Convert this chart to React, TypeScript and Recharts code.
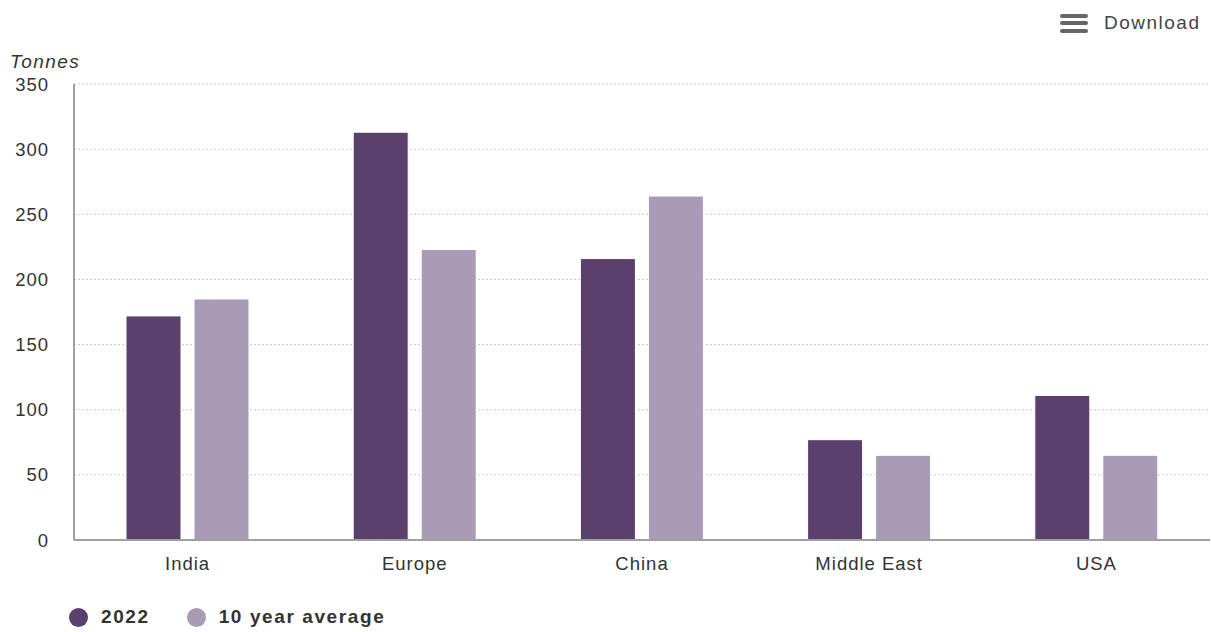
import React from "react";
import { BarChart, Bar, XAxis, YAxis, CartesianGrid } from "recharts";

const categories = ["India", "Europe", "China", "Middle East", "USA"];
const values2022 = [172, 313, 216, 77, 111];
const valuesAvg = [185, 223, 264, 65, 65];
const yTicks = [0, 50, 100, 150, 200, 250, 300, 350];
const seriesNames = ["2022", "10 year average"];
const colors = ["#5b3f6d", "#a99bb5"];

const data = categories.map((c, i) => ({ name: c, v2022: values2022[i], avg: valuesAvg[i] }));

const FONT = "'Liberation Sans', Arial, sans-serif";

const LegendBox = () => (
  <div
    style={{
      position: "absolute",
      left: 69,
      top: 606,
      display: "flex",
      alignItems: "center",
      fontFamily: FONT,
      fontWeight: "bold",
      fontSize: 19,
      letterSpacing: 1.6,
      color: "#333",
    }}
  >
    {seriesNames.map((n, i) => (
      <div key={n} style={{ display: "flex", alignItems: "center", marginRight: 37 }}>
        <span style={{ width: 19, height: 19, borderRadius: "50%", background: colors[i], display: "inline-block", marginRight: 13 }} />
        <span>{n}</span>
      </div>
    ))}
  </div>
);

export default function App() {
  return (
    <div style={{ position: "absolute", left: 0, top: 0, width: 1212, height: 632, background: "#fff", fontFamily: FONT }}>
      <div style={{ position: "absolute", left: 10, top: 51, fontSize: 19, letterSpacing: 1.4, fontStyle: "italic", color: "#333" }}>Tonnes</div>
      <div style={{ position: "absolute", left: 1060, top: 12, display: "flex", alignItems: "center" }}>
        <div style={{ width: 28, height: 19, display: "flex", flexDirection: "column", justifyContent: "space-between" }}>
          {[0, 1, 2].map((k) => (
            <div key={k} style={{ height: 4, background: "#666", borderRadius: 2 }} />
          ))}
        </div>
        <span style={{ marginLeft: 16, fontSize: 19, letterSpacing: 1.5, color: "#444" }}>Download</span>
      </div>
      <BarChart
        width={1212}
        height={632}
        data={data}
        margin={{ top: 84, right: 2, bottom: 0, left: 0 }}
        barSize={55}
        barGap={13}
        style={{ position: "absolute", left: 0, top: 0 }}
      >
        <CartesianGrid vertical={false} stroke="#c8c8c8" strokeDasharray="2 2" />
        <XAxis
          dataKey="name"
          tickLine={false}
          axisLine={{ stroke: "#a0a0a0", strokeWidth: 2 }}
          tick={{ fill: "#333", fontSize: 18.5, fontFamily: FONT, letterSpacing: 1 }}
          tickMargin={11}
          height={92}
        />
        <YAxis
          width={74}
          domain={[0, 350]}
          ticks={yTicks}
          interval={0}
          tickLine={false}
          axisLine={{ stroke: "#a0a0a0", strokeWidth: 2 }}
          tick={{ fill: "#333", fontSize: 18.5, fontFamily: FONT, letterSpacing: 1 }}
          tickMargin={19}
        />
        <Bar dataKey="v2022" name={seriesNames[0]} fill={colors[0]} stroke="#ffffff" strokeWidth={1} isAnimationActive={false} />
        <Bar dataKey="avg" name={seriesNames[1]} fill={colors[1]} stroke="#ffffff" strokeWidth={1} isAnimationActive={false} />
      </BarChart>
      <LegendBox />
    </div>
  );
}
